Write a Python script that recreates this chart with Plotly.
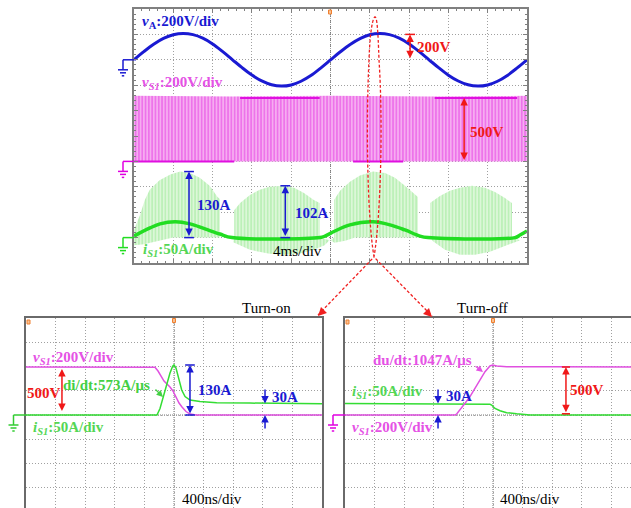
import plotly.graph_objects as go

W, H = 631, 508
FONT = "Liberation Serif"

# ---------------- top scope (4 ms/div) ----------------
TOP_T = list(range(0, 41))  # ms
VA = [0, 64, 122, 168, 197, 207, 198, 170, 125, 66, 2, -62, -120, -166, -196, -207, -198,
      -169, -124, -65, -1, 63, 121, 167, 197, 207, 198, 170, 125, 66, 2, -62, -121, -167,
      -197, -207, -198, -169, -123, -64, 0]  # V

VS1_BAND_T = [0, 10, 20, 30, 40]
VS1_BAND_TOP = [516, 512, 516, 512, 516]  # V (switching envelope)
VS1_HI_SEG = [(10.8, 18.9), (30.6, 39.0)]   # segments held at 500 V
VS1_LO_SEG = [(0.0, 10.2), (22.3, 27.4)]    # segments held at 0 V
VS1_HI, VS1_LO = 500, 0

# current humps: (t_up, i_up, t_lo, i_lo)
HUMPS = [
    ([0, 0.6, 1.1, 1.6, 2.6, 3.7, 4.7, 5.7, 6.7, 7.7, 8.5, 8.75],
     [15, 44, 74, 94, 113, 124, 130, 127, 118, 102, 80, 76],
     [0, 1.0, 2.0, 3.0, 4.0, 8.75],
     [-15, -13, -9, -4, 0, 0]),
    ([10.2, 10.8, 11.8, 12.8, 13.8, 15.1, 16.3, 17.3, 18.3, 18.9],
     [54, 68, 84, 94, 100, 102, 98, 88, 74, 68],
     [10.1, 11.8, 13.8, 15.3, 16.8, 18.3, 19.4, 19.9],
     [-9, -24, -32, -34, -32, -24, -15, -5]),
    ([20.36, 20.97, 21.98, 23.0, 24.33, 25.55, 26.56, 27.58, 28.6, 28.9],
     [74, 92, 110, 122, 130, 127, 118, 102, 84, 80],
     [20.0, 20.4, 21.5, 22.5, 28.9],
     [-5, -10, -6, 0, 0]),
    ([30.13, 31.14, 32.16, 33.18, 34.4, 35.72, 36.74, 37.76, 38.47],
     [68, 82, 92, 98, 102, 98, 90, 78, 68],
     [30.43, 31.65, 33.18, 34.7, 36.23, 37.76, 38.78, 39.29],
     [-7, -24, -34, -34, -28, -16, -9, -5]),
]
IS1_AVG_T = [0, 1.63, 2.65, 4.2, 5.7, 7.23, 8.75, 9.97, 18.93, 19.44, 20.46, 21.98, 24.33,
             26.06, 27.58, 29.11, 29.92, 38.78, 39.29, 40]
IS1_AVG = [3, 19, 27, 31, 27, 17, 7, 0, 0, 3, 13, 25, 31, 25, 15, 3, 0, 0, 5, 13]

TOP_V_DIV, TOP_A_DIV = 200, 50
VA_OFF, VS1_OFF, IS1_OFF = 3, -1, -4

# ---------------- bottom scopes (400 ns/div) ----------------
TON_T_V = [-2000, -324, -257, -216, -176, -135, -95, -54, -14, 27, 68, 108, 162, 216, 297, 2000]
TON_V = [500, 500, 497, 458, 406, 354, 323, 292, 250, 188, 125, 83, 36, 10, 0, 0]
TON_T_I = [-2000, -230, -189, -145, -99, -54, -18, 0, 27, 58, 104, 149, 216, 351, 577, 1027, 1703, 2000]
TON_I = [0, 0, 17, 48, 78, 109, 127, 130, 122, 96, 65, 48, 39, 35, 32, 31, 30, 29]

TOFF_T_I = [-2000, -716, -41, -18, 27, 95, 185, 320, 500, 1865]
TOFF_I = [30, 29, 28, 26, 17, 11, 6, 3, 0, 0]
TOFF_T_V = [-2000, -514, -491, -446, -378, -311, -243, -176, -108, -41, -4, 50, 185, 811, 1865]
TOFF_V = [0, 0, 10, 52, 122, 191, 278, 365, 451, 511, 521, 511, 503, 503, 500]

BOT_V_DIV, BOT_A_DIV = 252.6, 63.05

# ---------------- colours ----------------
BLUE = "#1a1ad2"
MAG = "#e000e0"
MAG_TXT = "#e552e5"
GREEN = "#22dd22"
GREEN_TXT = "#55d655"
RED = "#f01818"
GRID = "#a0a0a0"
FRAME = "#808080"


def px(x):
    return x / W


def py(y):
    return 1 - y / H


fig = go.Figure()

# ---- top traces ----
fig.add_trace(go.Scatter(x=[VS1_BAND_T[0], VS1_BAND_T[-1]], y=[VS1_OFF, VS1_OFF], mode="lines",
                         line=dict(width=0), hoverinfo="skip", xaxis="x", yaxis="y"))
fig.add_trace(go.Scatter(x=VS1_BAND_T, y=[VS1_OFF + v / TOP_V_DIV for v in VS1_BAND_TOP],
                         mode="lines", line=dict(width=0), fill="tonexty",
                         fillpattern=dict(shape="|", size=3.3, solidity=0.42,
                                          fgcolor="#e224e0", bgcolor="#f6acf1"),
                         xaxis="x", yaxis="y"))


def seg_xy(segs, level, off, scale):
    xs, ys = [], []
    for a, b in segs:
        xs += [a, b, None]
        ys += [off + level / scale, off + level / scale, None]
    return xs, ys


for segs, lev in ((VS1_HI_SEG, VS1_HI), (VS1_LO_SEG, VS1_LO)):
    sx, sy = seg_xy(segs, lev, VS1_OFF, TOP_V_DIV)
    fig.add_trace(go.Scatter(x=sx, y=sy, mode="lines", line=dict(color="#e010e0", width=2),
                             xaxis="x", yaxis="y"))

hx, hy = [], []
for tu, iu, tl, il in HUMPS:
    xs = [tu[0]] + tu + [tu[-1]] + tl[::-1]
    ys = [0] + iu + [0] + il[::-1]
    hx += xs + [None]
    hy += [IS1_OFF + v / TOP_A_DIV for v in ys] + [None]
fig.add_trace(go.Scatter(x=hx, y=hy, mode="lines", line=dict(width=0), fill="toself",
                         fillpattern=dict(shape="|", size=3.3, solidity=0.5,
                                          fgcolor="#9be997", bgcolor="#dcf7d8"),
                         xaxis="x", yaxis="y"))
fig.add_trace(go.Scatter(x=IS1_AVG_T, y=[IS1_OFF + v / TOP_A_DIV for v in IS1_AVG], mode="lines",
                         line=dict(color=GREEN, width=3.5, shape="spline"), xaxis="x", yaxis="y"))
fig.add_trace(go.Scatter(x=TOP_T, y=[VA_OFF + v / TOP_V_DIV for v in VA], mode="lines",
                         line=dict(color=BLUE, width=3, shape="spline"), xaxis="x", yaxis="y"))

# ---- bottom traces ----
fig.add_trace(go.Scatter(x=TON_T_V, y=[v / BOT_V_DIV for v in TON_V], mode="lines",
                         line=dict(color="#e050e0", width=1.5), xaxis="x2", yaxis="y2"))
fig.add_trace(go.Scatter(x=TON_T_I, y=[v / BOT_A_DIV for v in TON_I], mode="lines",
                         line=dict(color="#33dd33", width=1.5), xaxis="x2", yaxis="y2"))
fig.add_trace(go.Scatter(x=TOFF_T_I, y=[v / BOT_A_DIV for v in TOFF_I], mode="lines",
                         line=dict(color="#33dd33", width=1.5), xaxis="x3", yaxis="y3"))
fig.add_trace(go.Scatter(x=TOFF_T_V, y=[v / BOT_V_DIV for v in TOFF_V], mode="lines",
                         line=dict(color="#e050e0", width=1.5), xaxis="x3", yaxis="y3"))

# ---------------- axes ----------------
grid = dict(showgrid=True, gridcolor=GRID, griddash="1px,2px", gridwidth=1, zeroline=False,
            showticklabels=False, fixedrange=True)

fig.update_layout(
    width=W, height=H, margin=dict(l=0, r=0, t=0, b=0, pad=0), autosize=False,
    paper_bgcolor="white", plot_bgcolor="white", showlegend=False,
    xaxis=dict(domain=[px(134), px(527)], range=[0, 40], dtick=4, anchor="y",
               showline=True, linecolor=FRAME, linewidth=1.5, mirror="allticks",
               ticks="inside", ticklen=4, tickcolor=FRAME,
               minor=dict(dtick=0.8, ticks="inside", ticklen=2, tickcolor=FRAME, showgrid=False),
               **grid),
    yaxis=dict(domain=[py(263), py(9)], range=[-5, 5], dtick=1, anchor="x",
               showline=True, linecolor=FRAME, linewidth=1.5, mirror="allticks",
               ticks="inside", ticklen=4, tickcolor=FRAME,
               minor=dict(dtick=0.2, ticks="inside", ticklen=2, tickcolor=FRAME, showgrid=False),
               **grid),
    xaxis2=dict(domain=[px(26), px(322)], range=[-2000, 2000], dtick=400, tick0=0, anchor="y2",
                side="top", showline=True, linecolor="#6a6a6a", linewidth=1.5, mirror=False,
                **grid),
    yaxis2=dict(domain=[0, py(318)], range=[(415 - 508) / 24.25, 4], dtick=1, tick0=0, anchor="x2",
                showline=True, linecolor="#6a6a6a", linewidth=1.5, mirror=True, **grid),
    xaxis3=dict(domain=[px(345), 1], range=[-2000, -2000 + (631 - 345) / 0.074], dtick=400, tick0=0,
                anchor="y3", side="top", showline=True, linecolor="#6a6a6a", linewidth=1.5,
                mirror=False, **grid),
    yaxis3=dict(domain=[0, py(318)], range=[(415 - 508) / 24.25, 4], dtick=1, tick0=0, anchor="x3",
                showline=True, linecolor="#6a6a6a", linewidth=1.5, mirror=False, **grid),
)

shapes = []
ann = []

# centre lines
for xa, ya, xc in (("x", "y", 20), ("x2", "y2", 0), ("x3", "y3", 0)):
    shapes.append(dict(type="line", xref=xa, yref=ya + " domain", x0=xc, x1=xc, y0=0, y1=1,
                       line=dict(color="#7a7a7a", width=1, dash="1px,1px"), layer="below"))
    shapes.append(dict(type="line", xref=xa + " domain", yref=ya, x0=0, x1=1, y0=0, y1=0,
                       line=dict(color="#7a7a7a", width=1, dash="1px,1px"), layer="below"))


# ground symbols
def ground(color, yref, yval, x_sym, x_edge):
    shapes.append(dict(type="line", xref="paper", yref=yref, x0=px(x_sym), x1=px(x_edge),
                       y0=yval, y1=yval, line=dict(color=color, width=1.5)))
    shapes.append(dict(type="line", xref="paper", yref=yref, ysizemode="pixel", yanchor=yval,
                       x0=px(x_sym), x1=px(x_sym), y0=0, y1=-10, line=dict(color=color, width=1.5)))
    for dy, hw in ((-10, 5), (-13, 3), (-16, 1.2)):
        shapes.append(dict(type="line", xref="paper", yref=yref, ysizemode="pixel", yanchor=yval,
                           x0=px(x_sym - hw), x1=px(x_sym + hw), y0=dy, y1=dy,
                           line=dict(color=color, width=1.5)))


ground(BLUE, "y", VA_OFF, 123, 134)
ground(MAG, "y", VS1_OFF, 123, 134)
ground(GREEN, "y", IS1_OFF, 123, 134)
ground("#33cc33", "y2", 0, 13.5, 26)
ground(MAG, "y3", 0, 333, 345)


# value arrows
def varrow(xr, yr, x, y0, y1, color, both=True, bar_half=None, bars=(True, True)):
    ann.append(dict(x=x, y=y1, ax=x, ay=y0, xref=xr, yref=yr, axref=xr, ayref=yr, text="",
                    showarrow=True, arrowhead=2, arrowsize=1, arrowwidth=1.5, arrowcolor=color,
                    arrowside="end+start" if both else "end"))
    if bar_half:
        for yy, on in zip((y0, y1), bars):
            if on:
                shapes.append(dict(type="line", xref=xr, yref=yr, x0=x - bar_half, x1=x + bar_half,
                                   y0=yy, y1=yy, line=dict(color=color, width=1.5)))


varrow("x", "y", 28.1, VA_OFF, VA_OFF + 200 / TOP_V_DIV, RED, bar_half=0.5, bars=(False, True))
varrow("x", "y", 33.6, VS1_OFF, VS1_OFF + 500 / TOP_V_DIV, RED)
varrow("x", "y", 5.6, IS1_OFF, IS1_OFF + 130 / TOP_A_DIV, BLUE, bar_half=0.5)
varrow("x", "y", 15.4, IS1_OFF, IS1_OFF + 102 / TOP_A_DIV, BLUE, bar_half=0.5)

varrow("x2", "y2", -1514, 0.1, 480 / BOT_V_DIV, RED)
varrow("x2", "y2", 216, 0, 130 / BOT_A_DIV, BLUE, bar_half=65)
varrow("x2", "y2", 1230, 70 / BOT_A_DIV, 30 / BOT_A_DIV, BLUE, both=False)
varrow("x2", "y2", 1230, -39 / BOT_A_DIV, 0, BLUE, both=False)

varrow("x3", "y3", 986, 0.05, 500 / BOT_V_DIV, RED, bar_half=55)
varrow("x3", "y3", -743, 70 / BOT_A_DIV, 30 / BOT_A_DIV, BLUE, both=False)
varrow("x3", "y3", -743, -39 / BOT_A_DIV, 0, BLUE, both=False)


# labels
def lab(text, x, y, color, size=15, bold=True):
    ann.append(dict(text=("<b>%s</b>" % text) if bold else text, xref="paper", yref="paper",
                    x=px(x), y=py(y), xanchor="left", yanchor="middle", showarrow=False,
                    font=dict(family=FONT, size=size, color=color)))


VS1_LBL = "<i>v</i><sub><i>S1</i></sub>:200V/div"
IS1_LBL = "<i>i</i><sub><i>S1</i></sub>:50A/div"
lab("<i>v</i><sub>A</sub>:200V/div", 140, 22, BLUE)
lab(VS1_LBL, 140, 83, MAG_TXT)
lab("200V", 415, 47, RED)
lab("500V", 468, 132, RED)
lab("130A", 195, 205, BLUE)
lab("102A", 293, 213, BLUE)
lab(IS1_LBL, 141, 250, GREEN_TXT)
lab("4ms/div", 271, 251, "black", bold=False)

lab("Turn-on", 240, 308, "black", bold=False)
lab("Turn-off", 455, 308, "black", bold=False)
lab(VS1_LBL, 31, 358, MAG_TXT)
lab("500V", 25, 393, RED)
lab("di/dt:573A/μs", 61, 385, "#44d044")
lab(IS1_LBL, 31, 428, GREEN_TXT)
lab("130A", 196, 390, BLUE)
lab("30A", 270, 397, BLUE)
lab("400ns/div", 180, 499, "black", bold=False)

lab("du/dt:1047A/μs", 371, 360, MAG_TXT)
lab(IS1_LBL, 350, 392, GREEN_TXT)
lab("30A", 444, 396, BLUE)
lab(VS1_LBL, 350, 428, MAG_TXT)
lab("500V", 568, 390, RED)
lab("400ns/div", 498, 499, "black", bold=False)

# small pointer arrows
ann.append(dict(x=px(163), y=py(397), ax=-9, ay=-9, xref="paper", yref="paper", text="",
                showarrow=True, arrowhead=2, arrowsize=1, arrowwidth=1.3, arrowcolor="#44d044"))
ann.append(dict(x=px(483), y=py(372), ax=-9, ay=-7, xref="paper", yref="paper", text="",
                showarrow=True, arrowhead=2, arrowsize=1, arrowwidth=1.3, arrowcolor=MAG_TXT))

# red dashed zoom loop
pts = "M {a},{b} L {c},{d} C {e},{f} {g},{h} {i},{j} C {k},{l} {m},{n} {o},{p} " \
      "C {q},{r} {s},{t} {u},{v} C {w},{x} {y},{z} {c},{d} L {aa},{bb}"
P = dict(a=318, b=315, c=374, d=257, e=381, f=215, g=383, h=120, i=379, j=60,
         k=378, l=30, m=377, n=17, o=375, p=17, q=373, r=17, s=370, t=30, u=369, v=60,
         w=366, x=120, y=367, z=215, aa=432, bb=316)
conv = {}
for k2, v2 in P.items():
    conv[k2] = "%.5f" % (px(v2) if k2 in ("a", "c", "e", "g", "i", "k", "m", "o", "q", "s", "u", "w", "y", "aa")
                         else py(v2))
shapes.append(dict(type="path", xref="paper", yref="paper", path=pts.format(**conv),
                   line=dict(color="#f02020", width=1.3, dash="3px,2px")))
ann.append(dict(x=px(318), y=py(316), ax=7, ay=-7, xref="paper", yref="paper", text="",
                showarrow=True, arrowhead=2, arrowsize=1.3, arrowwidth=1.3, arrowcolor="#f02020"))
ann.append(dict(x=px(432), y=py(317), ax=-7, ay=-7, xref="paper", yref="paper", text="",
                showarrow=True, arrowhead=2, arrowsize=1.3, arrowwidth=1.3, arrowcolor="#f02020"))

# trigger markers
for (x0, y0) in ((328.5, 10), (27, 320), (172.5, 318.5), (346, 320), (491.5, 318.5)):
    shapes.append(dict(type="rect", xref="paper", yref="paper", x0=px(x0), x1=px(x0 + 3),
                       y0=py(y0), y1=py(y0 + 4), line=dict(color="#f08030", width=1),
                       fillcolor="#f8c090"))

fig.update_layout(shapes=shapes, annotations=ann)
fig.write_html("out.html")
